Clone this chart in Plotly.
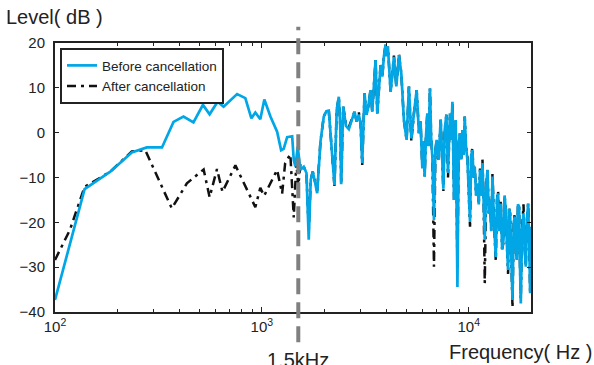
import math
import plotly.graph_objects as go

# ---------------- data ----------------
freq_low_before = [100, 139, 185, 235, 278, 329, 374, 418, 467, 519,
                   559, 611, 653, 759, 832, 890, 930, 983, 1028, 1100,
                   1185, 1239, 1275, 1325, 1401, 1426, 1453, 1491]
level_low_before = [-37.3, -12.6, -8.7, -4.4, -3.3, -3.3, 2.4, 3.6, 2.3, 6.2,
                    4.1, 6.9, 5.8, 8.6, 7.7, 3.2, 4.5, 3.0, 7.4, 3.6,
                    0.2, -3.9, -3.6, -1.0, -0.8, -6.1, -7.5, -3.1]

freq_low_after = [100, 118, 139, 185, 235, 273, 367, 434, 523, 559,
                  607, 645, 745, 930, 983, 1025, 1185, 1253, 1296, 1373,
                  1426, 1468, 1500]
level_low_after = [-28.4, -21.7, -12.1, -8.7, -4.2, -3.9, -16.9, -11.3, -8.2, -14.4,
                   -8.1, -13.2, -7.3, -16.6, -12.3, -14.1, -8.3, -13.6, -6.8, -4.8,
                   -18.9, -6.5, -12.0]

freq_high = [1536, 1594, 1643, 1685, 1723, 1762, 1806, 1851, 1920, 1992,
             2050, 2106, 2147, 2244, 2300, 2355, 2390, 2418, 2473, 2550,
             2633, 2720, 2805, 2870, 2943, 3000, 3056, 3136, 3200, 3253,
             3300, 3352, 3417, 3480, 3545, 3614, 3680, 3749, 3821, 3890,
             3964, 4010, 4067, 4192, 4270, 4349, 4467, 4599, 4721, 4790,
             4860, 5009, 5070, 5139, 5278, 5350, 5434, 5600, 5680, 5745,
             5850, 5967, 6040, 6123, 6210, 6308, 6400, 6494, 6580, 6670,
             6792, 6900, 6998, 7150, 7318, 7420, 7542, 7650, 7800, 7940,
             8118, 8220, 8339, 8489, 8650, 8817, 8950, 9077, 9200, 9322,
             9450, 9563, 9700, 9856, 10000, 10146, 10280, 10421, 10550, 10692,
             10850, 11019, 11180, 11343, 11500, 11650, 11800, 11954, 12150, 12320,
             12500, 12681, 12850, 13026, 13250, 13514, 13700, 13865, 14050, 14289,
             14500, 14724, 14900, 15108, 15300, 15500, 15680, 15849, 16050, 16278,
             16500, 16702, 16900, 17078, 17300, 17521, 17700, 17855, 18100, 18400,
             18650, 18877, 19100, 19373, 19600, 19811, 20000]

level_high_before = [-8.3, -7.6, -9.0, -23.9, -10.5, -8.7, -11.0, -13.5, -2.0, 3.6,
                     4.8, 4.9, -0.1, -11.7, 5.0, 8.0, 2.0, -11.5, 5.8, 1.5,
                     0.8, 3.0, 4.7, 2.5, 4.0, 2.0, -6.8, 8.8, 4.0, 5.1,
                     8.0, 9.5, 4.7, 12.0, 16.2, 4.3, 10.3, 15.1, 12.5, 17.0,
                     19.6, 17.0, 19.2, 9.1, 13.0, 16.9, 10.3, 17.3, 13.2, 6.0,
                     2.8, -1.6, 5.0, 10.3, -1.3, 2.0, 4.3, 9.5, 3.0, -0.1,
                     2.5, -8.0, -2.0, -9.8, -1.0, 4.3, -3.0, 9.9, -1.0, -5.4,
                     -19.5, -4.0, -1.6, -6.0, 3.0, -4.0, -12.5, 0.5, 4.0, -9.0,
                     4.3, -1.6, 6.9, -15.0, 2.8, -34.4, -2.0, -0.1, -6.0, 0.6,
                     -5.0, 3.6, -3.0, -6.1, -12.0, -19.9, -5.0, -3.9, -10.0, -7.6,
                     -14.0, -11.3, -16.0, -8.3, -14.0, -6.8, -15.0, -23.9, -12.0, -8.3,
                     -18.0, -15.0, -22.0, -9.8, -20.0, -27.7, -15.0, -13.5, -22.0, -15.8,
                     -26.0, -23.9, -14.0, -17.3, -25.0, -30.6, -17.0, -18.0, -27.0, -37.3,
                     -20.0, -18.7, -25.0, -28.4, -16.0, -16.5, -30.0, -38.1, -22.0, -18.0,
                     -26.0, -29.9, -20.0, -15.8, -24.0, -35.8, -21.0]

level_high_after = [-7.0, -7.6, -9.0, -22.0, -10.5, -8.7, -11.0, -13.0, -2.0, 3.6,
                    4.8, 4.9, -0.1, -12.0, 5.0, 8.0, 2.0, -11.5, 5.8, 1.8,
                    1.2, 3.2, 4.7, 2.5, 4.5, 2.0, -7.2, 8.8, 4.0, 5.1,
                    8.0, 9.5, 4.7, 12.0, 16.2, 4.3, 10.3, 15.1, 12.5, 17.0,
                    19.6, 17.0, 19.2, 9.1, 13.0, 17.2, 10.3, 17.5, 13.2, 6.0,
                    2.8, -1.6, 5.0, 10.3, -2.0, 2.0, 4.3, 9.5, 3.0, -0.1,
                    2.5, -8.0, -2.0, -9.8, -1.0, 4.3, -3.0, 9.9, -1.0, -5.4,
                    -29.9, -4.0, -1.6, -6.5, 3.0, -4.0, -13.0, 0.5, 4.0, -10.0,
                    4.3, -1.6, 6.9, -15.0, 2.8, -30.0, -2.0, -0.1, -6.0, 0.6,
                    -5.0, 3.6, -3.0, -5.5, -12.0, -21.0, -5.0, -3.3, -10.0, -7.6,
                    -14.0, -11.3, -16.0, -8.0, -14.0, -6.0, -15.0, -33.6, -12.0, -8.3,
                    -18.0, -15.0, -22.0, -9.0, -20.0, -28.5, -15.0, -13.0, -22.0, -15.0,
                    -26.0, -24.5, -14.0, -17.0, -25.0, -31.5, -17.0, -18.0, -27.0, -39.0,
                    -20.0, -18.0, -25.0, -28.4, -16.0, -16.5, -30.0, -37.0, -22.0, -16.0,
                    -26.0, -29.9, -20.0, -15.8, -24.0, -35.8, -21.0]

x_tick_vals = [100, 1000, 10000]
x_tick_text = ["10<sup>2</sup>", "10<sup>3</sup>", "10<sup>4</sup>"]
x_minor_vals = [200, 300, 400, 500, 600, 700, 800, 900,
                2000, 3000, 4000, 5000, 6000, 7000, 8000, 9000]
y_tick_vals = [-40, -30, -20, -10, 0, 10, 20]
cutoff_freq = 1500
series_names = ["Before cancellation", "After cancellation"]

# ---------------- figure ----------------
FONT = "Liberation Sans, Arial, Helvetica, sans-serif"
BLUE = "#00a6e6"
INK = "#222222"

fig = go.Figure()
fig.add_trace(go.Scatter(
    x=freq_low_after + freq_high, y=level_low_after + level_high_after,
    mode="lines", name=series_names[1],
    line=dict(color="#111111", width=2.5, dash="9px,5px,3px,5px"),
))
fig.add_trace(go.Scatter(
    x=freq_low_before + freq_high, y=level_low_before + level_high_before,
    mode="lines", name=series_names[0],
    line=dict(color=BLUE, width=2.7),
))

fig.add_shape(type="line", xref="x", yref="paper",
              x0=cutoff_freq, x1=cutoff_freq, y0=-0.112, y1=1.06,
              line=dict(color="#808080", width=4, dash="16px,8px"))

fig.add_annotation(text="Level( dB )", xref="paper", yref="paper",
                   x=-0.107, y=1.097, xanchor="left", yanchor="middle",
                   showarrow=False, font=dict(family=FONT, size=20, color=INK))
fig.add_annotation(text="Frequency( Hz )", xref="paper", yref="paper",
                   x=1.132, y=-0.149, xanchor="right", yanchor="middle",
                   showarrow=False, font=dict(family=FONT, size=20, color=INK))
fig.add_annotation(text="1.5kHz", xref="x", yref="paper",
                   x=math.log10(cutoff_freq), y=-0.178, xanchor="center", yanchor="middle",
                   showarrow=False, font=dict(family=FONT, size=20, color=INK))

fig.update_layout(
    width=594, height=365,
    margin=dict(l=55, r=63, t=43, b=53),
    paper_bgcolor="white", plot_bgcolor="white",
    font=dict(family=FONT, size=15, color=INK),
    showlegend=True,
    legend=dict(x=0.0105, y=0.981, xanchor="left", yanchor="top",
                traceorder="reversed",
                bgcolor="white", bordercolor=INK, borderwidth=2,
                font=dict(family=FONT, size=13.5, color=INK),
                tracegroupgap=0, itemwidth=30),
    xaxis=dict(type="log", range=[2, math.log10(20000)],
               tickvals=x_tick_vals, ticktext=x_tick_text,
               ticks="inside", ticklen=5, tickwidth=1, tickcolor=INK,
               minor=dict(tickvals=x_minor_vals, ticks="inside", ticklen=3,
                          tickwidth=1, tickcolor=INK),
               showline=True, linewidth=2, linecolor=INK, mirror="ticks",
               showgrid=False, zeroline=False,
               tickfont=dict(family=FONT, size=15, color=INK)),
    yaxis=dict(range=[-40, 20], tickvals=y_tick_vals,
               ticks="inside", ticklen=4, tickwidth=1, tickcolor=INK,
               showline=True, linewidth=2, linecolor=INK, mirror="ticks",
               showgrid=False, zeroline=False, ticklabelstandoff=5,
               tickfont=dict(family=FONT, size=15, color=INK)),
)

fig.write_html("out.html",
               config={"displayModeBar": False},
               post_script="document.body.style.margin='0';document.body.style.overflow='hidden';")
